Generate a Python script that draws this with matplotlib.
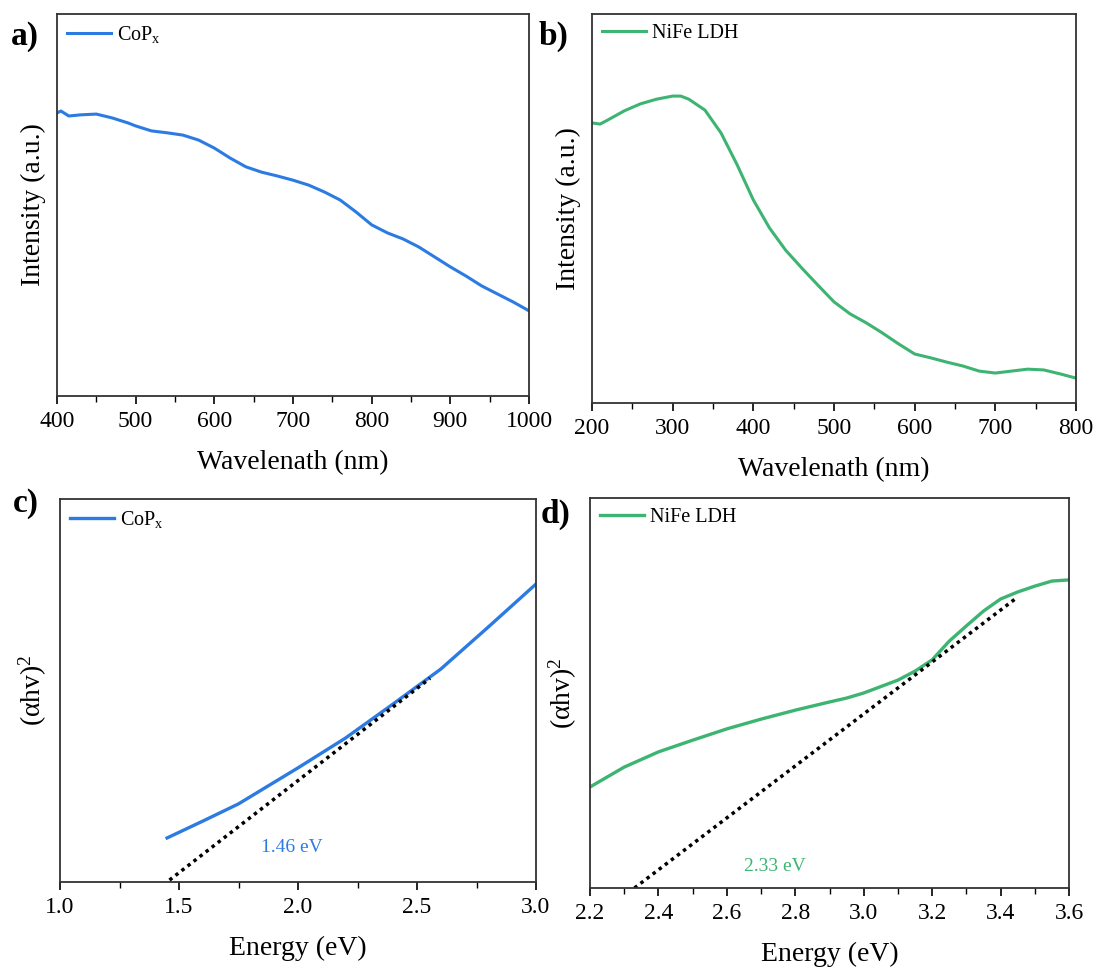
import matplotlib
matplotlib.use("Agg")
import matplotlib.pyplot as plt
from matplotlib.ticker import MultipleLocator

plt.rcParams['font.family'] = ['Liberation Serif', 'DejaVu Serif']
plt.rcParams['mathtext.fontset'] = 'custom'
plt.rcParams['mathtext.rm'] = 'Liberation Serif'
plt.rcParams['mathtext.it'] = 'Liberation Serif'

blue = '#2B7BE3'
green = '#3DB472'

# a) CoPx absorbance (a.u.)
wl_a = [400, 405, 415, 430, 450, 470, 490, 500, 520, 540, 560, 580, 600, 620,
        640, 660, 680, 700, 720, 740, 760, 780, 800, 820, 840, 860, 880, 900,
        920, 940, 960, 980, 1000]
int_a = [0.741, 0.746, 0.733, 0.736, 0.738, 0.728, 0.715, 0.707, 0.694, 0.689,
         0.683, 0.670, 0.649, 0.623, 0.600, 0.586, 0.576, 0.565, 0.552, 0.534,
         0.513, 0.482, 0.448, 0.427, 0.411, 0.390, 0.364, 0.338, 0.314, 0.288,
         0.267, 0.246, 0.223]

# b) NiFe LDH absorbance (a.u.)
wl_b = [200, 210, 220, 240, 260, 280, 300, 310, 320, 340, 360, 380, 400, 420,
        440, 460, 480, 500, 520, 540, 560, 580, 600, 620, 640, 660, 680, 700,
        720, 740, 760, 780, 800]
int_b = [0.720, 0.717, 0.728, 0.751, 0.769, 0.781, 0.789, 0.789, 0.781, 0.753,
         0.694, 0.612, 0.522, 0.450, 0.393, 0.347, 0.303, 0.260, 0.229, 0.206,
         0.180, 0.152, 0.126, 0.116, 0.105, 0.095, 0.082, 0.077, 0.082, 0.087,
         0.085, 0.075, 0.064]

# c) CoPx Tauc plot
e_c = [1.45, 1.60, 1.75, 2.00, 2.20, 2.40, 2.60, 2.80, 3.00]
tauc_c = [0.115, 0.159, 0.204, 0.298, 0.376, 0.465, 0.556, 0.666, 0.778]
fit_c_x = [1.46, 2.555]
fit_c_y = [0.005, 0.532]
gap_c = '1.46 eV'

# d) NiFe LDH Tauc plot
e_d = [2.20, 2.30, 2.40, 2.50, 2.60, 2.70, 2.80, 2.90, 2.95, 3.00, 3.10, 3.15,
       3.20, 3.25, 3.30, 3.35, 3.40, 3.45, 3.50, 3.55, 3.60]
tauc_d = [0.259, 0.310, 0.349, 0.379, 0.408, 0.433, 0.456, 0.477, 0.487, 0.500,
          0.533, 0.556, 0.585, 0.633, 0.672, 0.710, 0.741, 0.759, 0.774, 0.787,
          0.790]
fit_d_x = [2.33, 3.45]
fit_d_y = [0.0, 0.746]
gap_d = '2.33 eV'

fig = plt.figure(figsize=(10.98, 9.72), dpi=100)
W, H = 1098, 972


def make_ax(l, t, r, b):
    return fig.add_axes([l / W, 1 - b / H, (r - l) / W, (b - t) / H])


def style(ax, xlabel, ylabel, label, lx, ly, major, minor):
    ax.set_xlabel(xlabel, fontsize=20, labelpad=13)
    ax.set_ylabel(ylabel, fontsize=20, labelpad=8)
    ax.set_yticks([])
    ax.xaxis.set_major_locator(MultipleLocator(major))
    ax.xaxis.set_minor_locator(MultipleLocator(minor))
    ax.tick_params(axis='x', which='major', direction='out', length=6, width=1.2,
                   labelsize=17, pad=5)
    ax.tick_params(axis='x', which='minor', direction='out', length=4, width=1.0)
    for s in ax.spines.values():
        s.set_linewidth(1.3)
        s.set_color('#333333')
    ax.legend(loc='upper left', frameon=False, fontsize=14.5, handlelength=2.2,
              handletextpad=0.3, borderaxespad=0.3, borderpad=0.2)
    fig.text(lx / W, 1 - ly / H, label, fontsize=24, fontweight='bold',
             va='top', ha='left')


# a
ax = make_ax(57, 14, 529, 396)
ax.plot(wl_a, int_a, color=blue, lw=2.2, label=r'CoP$_\mathregular{x}$')
ax.set_xlim(400, 1000)
ax.set_ylim(0, 1)
style(ax, 'Wavelenath (nm)', 'Intensity (a.u.)', 'a)', 11, 21, 100, 50)

# b
ax = make_ax(592, 14, 1076, 403)
ax.plot(wl_b, int_b, color=green, lw=2.2, label='NiFe LDH')
ax.set_xlim(200, 800)
ax.set_ylim(0, 1)
style(ax, 'Wavelenath (nm)', 'Intensity (a.u.)', 'b)', 539, 21, 100, 50)

# c
ax = make_ax(60, 499, 536, 882)
ax.plot(e_c, tauc_c, color=blue, lw=2.4, label=r'CoP$_\mathregular{x}$')
ax.plot(fit_c_x, fit_c_y, color='black', lw=2.5, ls=(0, (1, 1.2)))
ax.text(1.975, 0.09, gap_c, color=blue, fontsize=14, ha='center', va='center')
ax.set_xlim(1.0, 3.0)
ax.set_ylim(0, 1)
style(ax, 'Energy (eV)', r'($\mathregular{\alpha}$hv)$^\mathregular{2}$', 'c)', 13, 488, 0.5, 0.25)

# d
ax = make_ax(590, 498, 1069, 888)
ax.plot(e_d, tauc_d, color=green, lw=2.4, label='NiFe LDH')
ax.plot(fit_d_x, fit_d_y, color='black', lw=2.5, ls=(0, (1, 1.2)))
ax.text(2.74, 0.056, gap_d, color=green, fontsize=14, ha='center', va='center')
ax.set_xlim(2.2, 3.6)
ax.set_ylim(0, 1)
style(ax, 'Energy (eV)', r'($\mathregular{\alpha}$hv)$^\mathregular{2}$', 'd)', 541, 499, 0.2, 0.1)

fig.savefig('out.png', dpi=100)
